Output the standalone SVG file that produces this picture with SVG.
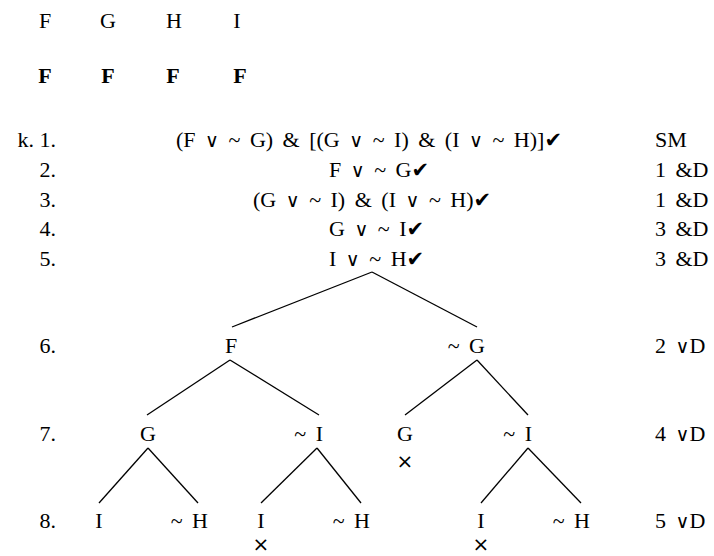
<svg xmlns="http://www.w3.org/2000/svg" width="714" height="556" viewBox="0 0 714 556">
<style>
text{font-family:"Liberation Serif","Times New Roman",serif;font-size:22px;fill:#000}
.w{word-spacing:4px}
.b{font-weight:bold}
.m{text-anchor:middle}
.e{text-anchor:end}
.o{font-family:"DejaVu Serif",serif;font-size:19px}
.ck{font-family:"DejaVu Sans",sans-serif;font-size:21px}
.x{font-family:"DejaVu Sans",sans-serif;font-size:20px;text-anchor:middle}
line{stroke:#000;stroke-width:1.3}
</style>
<rect width="714" height="556" fill="#fff"/>
<g id="header">
<text x="45" y="28" class="m">F</text>
<text x="108" y="28" class="m">G</text>
<text x="174" y="28" class="m">H</text>
<text x="237" y="28" class="m">I</text>
<text x="45" y="83" class="m b">F</text>
<text x="108" y="83" class="m b">F</text>
<text x="173" y="83" class="m b">F</text>
<text x="240" y="83" class="m b">F</text>
</g>
<g id="row1">
<text x="56" y="147" class="e">k. 1.</text>
<text x="176" y="147" class="w">(F <tspan class="o">∨</tspan> ~ G) &amp; [(G <tspan class="o">∨</tspan> ~ I) &amp; (I <tspan class="o">∨</tspan> ~ H)]<tspan class="ck">✔</tspan></text>
<text x="655" y="147">SM</text>
</g>
<g id="row2">
<text x="56" y="177" class="e">2.</text>
<text x="329" y="177" class="w">F <tspan class="o">∨</tspan> ~ G<tspan class="ck">✔</tspan></text>
<text x="655" y="177" class="w">1 &amp;D</text>
</g>
<g id="row3">
<text x="56" y="207" class="e">3.</text>
<text x="253" y="207" class="w">(G <tspan class="o">∨</tspan> ~ I) &amp; (I <tspan class="o">∨</tspan> ~ H)<tspan class="ck">✔</tspan></text>
<text x="655" y="207" class="w">1 &amp;D</text>
</g>
<g id="row4">
<text x="56" y="236" class="e">4.</text>
<text x="329" y="236" class="w">G <tspan class="o">∨</tspan> ~ I<tspan class="ck">✔</tspan></text>
<text x="655" y="236" class="w">3 &amp;D</text>
</g>
<g id="row5">
<text x="56" y="266" class="e">5.</text>
<text x="329" y="266" class="w">I <tspan class="o">∨</tspan> ~ H<tspan class="ck">✔</tspan></text>
<text x="655" y="266" class="w">3 &amp;D</text>
</g>
<g id="connectors">
<line x1="372" y1="272" x2="232" y2="327"/>
<line x1="372" y1="272" x2="477" y2="327"/>
<line x1="230" y1="360" x2="147" y2="415"/>
<line x1="230" y1="360" x2="319" y2="415"/>
<line x1="477" y1="360" x2="405" y2="415"/>
<line x1="477" y1="360" x2="528" y2="415"/>
<line x1="148" y1="448" x2="99" y2="503"/>
<line x1="148" y1="448" x2="198" y2="503"/>
<line x1="317" y1="448" x2="261" y2="503"/>
<line x1="317" y1="448" x2="361" y2="503"/>
<line x1="528" y1="448" x2="481" y2="503"/>
<line x1="528" y1="448" x2="581" y2="503"/>
</g>
<g id="row6">
<text x="56" y="353" class="e">6.</text>
<text x="655" y="353" class="w">2 <tspan class="o">∨</tspan>D</text>
</g>
<g id="n6a"><text x="231" y="353" class="m">F</text></g>
<g id="n6b"><text x="485" y="353" class="e w">~ G</text></g>
<g id="row7">
<text x="56" y="441" class="e">7.</text>
<text x="655" y="441" class="w">4 <tspan class="o">∨</tspan>D</text>
</g>
<g id="n7a"><text x="148" y="441" class="m">G</text></g>
<g id="n7b"><text x="323" y="441" class="e w">~ I</text></g>
<g id="n7c"><text x="405" y="441" class="m">G</text><text x="405" y="468" class="x">×</text></g>
<g id="n7d"><text x="532" y="441" class="e w">~ I</text></g>
<g id="row8">
<text x="56" y="528" class="e">8.</text>
<text x="655" y="528" class="w">5 <tspan class="o">∨</tspan>D</text>
</g>
<g id="n8a"><text x="99" y="528" class="m">I</text></g>
<g id="n8b"><text x="208" y="528" class="e w">~ H</text></g>
<g id="n8c"><text x="261" y="528" class="m">I</text><text x="261" y="551" class="x">×</text></g>
<g id="n8d"><text x="370" y="528" class="e w">~ H</text></g>
<g id="n8e"><text x="481" y="528" class="m">I</text><text x="481" y="551" class="x">×</text></g>
<g id="n8f"><text x="590" y="528" class="e w">~ H</text></g>
</svg>
